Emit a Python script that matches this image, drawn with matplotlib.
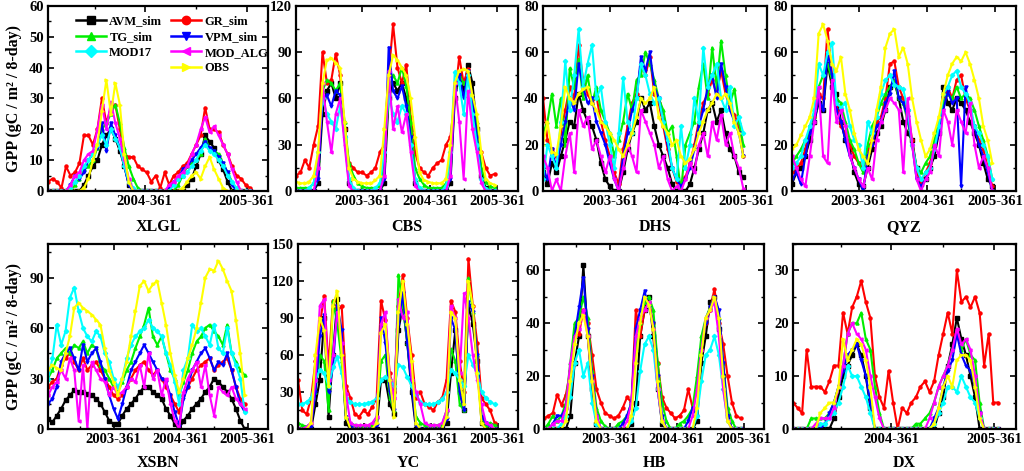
import matplotlib
matplotlib.use('Agg')
import numpy as np
import matplotlib.pyplot as plt
from matplotlib.lines import Line2D
from matplotlib.ticker import MultipleLocator, FixedLocator

plt.rcParams['font.family'] = ['Liberation Serif', 'DejaVu Serif']
plt.rcParams['font.weight'] = 'bold'
plt.rcParams['axes.linewidth'] = 1.6

# model names / styles
models = ['AVM_sim', 'GR_sim', 'TG_sim', 'VPM_sim', 'MOD17', 'MOD_ALG', 'OBS']
colors = ['#000000', '#ff0000', '#00ee00', '#0000ff', '#00ffff', '#ff00ff', '#ffff00']
markers = ['s', 'o', '^', 'v', 'D', '<', '>']

# ---- XLGL (2004-2005, every 2nd 8-day composite) ----
xlgl_avm = [0]*8 + [2, 5, 8, 10, 15, 18, 20, 17, 13, 8, 2] + [0]*12 + [2, 4, 8, 12, 18, 16, 14, 10, 7, 3] + [0]*5
xlgl_gr = [3, 4, 3, 1, 8, 5, 6, 9, 18, 18, 15, 20, 30, 22, 27, 28, 20, 12, 11, 11, 8, 7, 6, 3, 5,
           1, 6, 2, 5, 6, 8, 9, 12, 15, 18, 27, 20, 20, 19, 15, 12, 8, 5, 4, 2, 1]
xlgl_tg = [0]*6 + [2, 4, 7, 8, 10, 14, 20, 22, 25, 28, 22, 14, 8, 4, 1] + [0]*8 + [2, 5, 8, 9, 10, 12, 17, 14, 13, 12, 9, 6, 3] + [0]*4
xlgl_vpm = [0]*5 + [2, 5, 4, 6, 10, 12, 14, 22, 13, 22, 18, 14, 8, 2] + [0]*8 + [1, 3, 4, 7, 8, 10, 12, 14, 16, 14, 13, 11, 9, 6, 2] + [0]*4
xlgl_mod17 = [0]*5 + [1, 3, 5, 8, 10, 12, 15, 18, 15, 20, 17, 14, 8, 3, 1] + [0]*8 + [2, 4, 5, 6, 8, 10, 13, 15, 13, 12, 10, 8, 5, 3, 1] + [0]*3
xlgl_alg = [0]*5 + [2, 5, 6, 10, 12, 13, 20, 28, 20, 29, 22, 17, 10, 4] + [0]*8 + [2, 3, 5, 6, 8, 12, 15, 20, 24, 19, 21, 18, 15, 12, 7, 3] + [0]*3
xlgl_obs = [0]*8 + [1, 4, 10, 15, 26, 36, 25, 35, 28, 12, 3] + [0]*11 + [1, 3, 5, 6, 4, 8, 11, 7, 4, 1] + [0]*6

# ---- CBS (2003-2005, every 3rd composite) ----
cbs_avm = [0, 0, 0, 0, 0, 5, 50, 65, 70, 60, 70, 40, 5, 0, 0, 0, 0, 0, 0, 0, 5, 60, 70, 65, 70, 60, 40, 5,
           0, 0, 0, 0, 0, 0, 0, 5, 60, 75, 65, 82, 70, 40, 10, 2, 0, 0]
cbs_gr = [10, 12, 20, 15, 30, 42, 90, 70, 72, 89, 75, 40, 18, 15, 12, 12, 10, 12, 15, 25, 30, 75, 108, 80,
          70, 82, 48, 25, 15, 12, 10, 15, 18, 20, 30, 35, 60, 87, 70, 79, 60, 28, 25, 15, 10, 11]
cbs_tg = [2, 2, 2, 2, 5, 20, 65, 72, 70, 65, 70, 45, 18, 10, 5, 3, 2, 2, 2, 3, 20, 65, 75, 70, 80, 68, 45,
          15, 8, 4, 2, 2, 2, 2, 5, 20, 68, 75, 70, 72, 60, 45, 15, 6, 3, 2]
cbs_vpm = [0, 0, 0, 0, 0, 8, 60, 62, 55, 65, 62, 35, 5, 0, 0, 0, 0, 0, 0, 0, 8, 93, 65, 60, 68, 55, 35, 5,
           0, 0, 0, 0, 0, 0, 0, 8, 65, 75, 60, 78, 60, 35, 8, 0, 0, 0]
cbs_mod17 = [0, 0, 0, 2, 5, 25, 60, 50, 45, 40, 55, 35, 8, 2, 0, 0, 0, 0, 2, 5, 25, 62, 50, 45, 55, 50, 30,
             8, 2, 0, 0, 0, 0, 0, 3, 25, 77, 70, 50, 75, 50, 30, 8, 1, 0, 0]
cbs_alg = [0, 0, 0, 0, 0, 15, 70, 45, 25, 50, 60, 30, 3, 0, 0, 0, 0, 0, 0, 0, 10, 78, 40, 55, 38, 50, 25, 3,
           0, 0, 0, 0, 0, 0, 0, 10, 70, 45, 8, 65, 40, 25, 5, 0, 0, 0]
cbs_obs = [6, 5, 5, 6, 10, 25, 70, 85, 86, 83, 80, 45, 15, 8, 6, 5, 5, 5, 7, 10, 40, 75, 88, 85, 80, 75, 60,
           35, 12, 7, 6, 5, 5, 5, 8, 30, 70, 78, 79, 78, 62, 50, 25, 8, 5, 4]

# ---- DHS ----
dhs_avm = [8, 3, 12, 8, 15, 22, 30, 28, 42, 35, 30, 28, 22, 12, 5, 2, 0, 0, 8, 18, 25, 30, 40, 35, 38, 28,
           20, 15, 10, 3, 0, 0, 0, 3, 10, 18, 25, 35, 38, 30, 35, 25, 18, 15, 8, 6]
dhs_gr = [40, 22, 18, 15, 25, 35, 45, 40, 63, 48, 42, 38, 41, 30, 22, 15, 8, 3, 18, 28, 38, 42, 55, 50, 58,
          42, 38, 28, 18, 10, 4, 3, 6, 12, 20, 30, 38, 42, 48, 42, 52, 42, 36, 33, 28, 15]
dhs_tg = [25, 30, 42, 28, 40, 20, 53, 45, 57, 40, 50, 38, 45, 35, 30, 25, 15, 22, 30, 42, 35, 48, 50, 60, 55,
          48, 40, 35, 25, 28, 15, 0, 20, 25, 30, 45, 55, 40, 62, 45, 65, 50, 38, 44, 30, 20]
dhs_vpm = [10, 5, 18, 10, 20, 30, 40, 35, 55, 45, 38, 40, 30, 25, 20, 12, 5, 0, 15, 25, 35, 40, 58, 52, 60,
           45, 40, 30, 20, 10, 5, 2, 5, 10, 18, 28, 35, 45, 50, 40, 55, 45, 35, 30, 25, 15]
dhs_mod17 = [5, 20, 15, 10, 30, 56, 35, 50, 70, 45, 55, 63, 40, 45, 30, 20, 10, 25, 49, 30, 25, 40, 55, 50,
             42, 38, 40, 30, 22, 10, 5, 28, 10, 20, 40, 30, 62, 45, 50, 55, 40, 35, 45, 28, 32, 25]
dhs_alg = [15, 10, 0, 5, 0, 15, 25, 8, 35, 28, 32, 18, 22, 15, 8, 15, 5, 0, 10, 20, 15, 8, 35, 30, 25, 20,
           10, 15, 5, 0, 2, 0, 5, 12, 8, 20, 25, 15, 30, 22, 33, 20, 25, 15, 10, 1]
dhs_obs = [20, 30, 17, 16, 28, 45, 40, 38, 42, 44, 45, 38, 35, 30, 28, 25, 22, 18, 15, 20, 25, 32, 40, 38,
           40, 45, 32, 28, 25, 20, 22, 15, 12, 14, 18, 25, 30, 35, 38, 42, 40, 42, 38, 30, 25, 15]

# ---- QYZ ----
qyz_avm = [3, 8, 10, 15, 22, 30, 38, 35, 55, 45, 42, 30, 22, 18, 8, 3, 2, 10, 18, 25, 28, 35, 45, 47, 40,
           30, 25, 22, 10, 3, 5, 10, 15, 25, 45, 38, 35, 40, 38, 35, 30, 25, 20, 12, 5, 2]
qyz_gr = [8, 10, 12, 18, 28, 32, 42, 40, 70, 50, 38, 28, 25, 20, 15, 12, 10, 18, 22, 30, 32, 40, 55, 56, 45,
          40, 35, 22, 8, 4, 8, 12, 20, 28, 38, 45, 40, 48, 50, 40, 35, 28, 22, 18, 10, 2]
qyz_tg = [12, 15, 18, 22, 25, 32, 45, 50, 55, 48, 40, 38, 30, 22, 18, 12, 8, 20, 28, 32, 38, 42, 45, 48, 40,
          38, 30, 20, 10, 8, 12, 15, 22, 30, 38, 42, 40, 45, 40, 42, 40, 35, 28, 22, 15, 5]
qyz_vpm = [5, 8, 3, 15, 25, 30, 40, 35, 60, 50, 35, 30, 22, 15, 10, 5, 0, 15, 20, 28, 30, 38, 42, 52, 40,
           38, 32, 20, 5, 2, 5, 10, 18, 25, 35, 43, 38, 40, 2, 45, 35, 28, 20, 15, 8, 0]
qyz_mod17 = [10, 12, 15, 22, 28, 35, 55, 50, 60, 64, 38, 36, 38, 28, 22, 20, 10, 30, 25, 32, 42, 48, 50, 46,
             45, 44, 35, 20, 10, 5, 8, 10, 18, 28, 42, 45, 50, 52, 45, 42, 38, 28, 25, 20, 15, 5]
qyz_alg = [15, 10, 5, 2, 15, 30, 45, 15, 12, 48, 30, 35, 28, 15, 10, 5, 2, 10, 5, 22, 30, 35, 40, 38, 35, 8,
           40, 20, 5, 0, 5, 8, 20, 15, 35, 30, 20, 35, 30, 25, 38, 20, 10, 15, 10, 0]
qyz_obs = [18, 20, 24, 28, 32, 40, 68, 72, 65, 55, 52, 58, 42, 35, 25, 18, 15, 12, 22, 35, 45, 62, 68, 70,
           58, 62, 55, 40, 30, 22, 15, 18, 25, 32, 42, 50, 55, 58, 56, 60, 55, 48, 40, 28, 22, 12]

# ---- XSBN ----
xsbn_avm = [6, 4, 8, 12, 17, 20, 23, 22, 22, 21, 20, 18, 15, 10, 5, 3, 3, 8, 12, 15, 18, 22, 25, 25, 22, 20,
            18, 12, 8, 3, 0, 5, 8, 12, 15, 18, 22, 25, 30, 28, 25, 22, 18, 12, 5, 0]
xsbn_gr = [25, 28, 30, 38, 42, 45, 40, 35, 42, 35, 38, 40, 35, 30, 25, 20, 18, 20, 25, 30, 35, 38, 40, 35,
           32, 35, 30, 25, 20, 15, 10, 20, 25, 30, 35, 38, 40, 42, 35, 38, 40, 42, 35, 25, 18, 15]
xsbn_tg = [30, 35, 42, 45, 48, 45, 50, 48, 52, 45, 50, 48, 38, 35, 30, 25, 22, 28, 35, 40, 48, 55, 62, 72,
           55, 50, 55, 45, 35, 30, 20, 28, 35, 45, 52, 55, 60, 62, 58, 55, 50, 62, 45, 40, 35, 32]
xsbn_vpm = [15, 18, 25, 40, 45, 48, 42, 35, 50, 40, 45, 48, 40, 30, 20, 12, 6, 15, 25, 35, 40, 45, 50, 45,
            40, 35, 30, 28, 20, 10, 2, 18, 25, 35, 40, 45, 48, 42, 35, 40, 38, 45, 35, 25, 15, 10]
xsbn_mod17 = [30, 42, 62, 50, 58, 78, 84, 70, 60, 55, 52, 58, 55, 45, 40, 30, 25, 30, 42, 50, 55, 58, 60, 65,
              60, 58, 55, 45, 38, 28, 15, 35, 42, 62, 58, 60, 55, 50, 62, 48, 45, 60, 45, 38, 30, 10]
xsbn_alg = [20, 25, 28, 35, 30, 42, 35, 5, 38, 0, 40, 35, 30, 28, 20, 25, 20, 22, 25, 30, 28, 38, 25, 45, 30,
            35, 20, 30, 15, 5, 0, 22, 30, 35, 40, 25, 38, 20, 8, 25, 22, 20, 25, 18, 15, 12]
xsbn_obs = [35, 38, 36, 35, 45, 55, 72, 75, 72, 70, 68, 65, 62, 48, 35, 28, 20, 30, 40, 55, 70, 85, 88, 82,
            86, 88, 75, 62, 45, 32, 22, 30, 42, 50, 60, 75, 90, 95, 94, 100, 95, 88, 82, 65, 45, 20]

# ---- YC ----
yc_avm = [0, 0, 0, 0, 20, 40, 90, 10, 60, 105, 60, 5, 0, 0, 0, 0, 0, 0, 0, 40, 40, 20, 12, 80, 100, 70, 30,
          0, 0, 0, 0, 0, 0, 0, 5, 45, 80, 30, 15, 100, 85, 55, 5, 0, 0, 0]
yc_gr = [40, 15, 12, 25, 55, 85, 108, 50, 104, 95, 100, 35, 25, 12, 10, 15, 12, 18, 25, 104, 88, 45, 30, 100,
         125, 90, 60, 25, 30, 20, 18, 15, 22, 25, 40, 104, 95, 55, 30, 138, 100, 70, 25, 20, 15, 5]
yc_tg = [5, 3, 2, 5, 30, 60, 55, 15, 104, 85, 55, 10, 5, 3, 2, 2, 2, 3, 10, 55, 60, 25, 15, 125, 100, 70, 40,
         10, 5, 3, 3, 3, 3, 4, 15, 65, 55, 20, 15, 122, 95, 60, 10, 3, 5, 3]
yc_vpm = [0, 0, 0, 2, 30, 75, 92, 30, 50, 100, 80, 10, 3, 0, 0, 0, 0, 0, 3, 90, 70, 30, 15, 85, 110, 70, 35,
          3, 0, 0, 0, 0, 0, 0, 8, 90, 80, 30, 15, 103, 95, 60, 10, 5, 2, 0]
yc_mod17 = [20, 20, 22, 25, 40, 48, 45, 35, 50, 58, 45, 25, 22, 20, 20, 20, 21, 22, 25, 40, 42, 40, 35, 52,
            50, 42, 35, 28, 22, 20, 20, 20, 22, 24, 30, 48, 45, 40, 35, 60, 52, 45, 30, 25, 22, 20]
yc_alg = [0, 0, 2, 5, 40, 100, 105, 40, 60, 95, 70, 28, 5, 3, 3, 3, 3, 5, 10, 85, 95, 40, 25, 105, 90, 95, 40,
          30, 20, 5, 3, 3, 3, 5, 15, 100, 90, 45, 110, 90, 60, 40, 20, 5, 3, 0]
yc_obs = [0, 0, 0, 5, 60, 90, 80, 35, 100, 112, 60, 10, 0, 0, 0, 0, 0, 0, 5, 78, 85, 40, 10, 95, 120, 85, 55,
          5, 0, 0, 0, 0, 0, 0, 10, 95, 90, 40, 20, 120, 100, 45, 5, 0, 0, 0]

# ---- HB ----
hb_avm = [0, 0, 0, 0, 0, 0, 5, 25, 35, 62, 35, 15, 2, 0, 0, 0, 0, 0, 0, 0, 2, 10, 35, 45, 50, 35, 15, 2, 0,
          0, 0, 0, 0, 0, 0, 3, 25, 35, 48, 50, 38, 20, 5, 0, 0, 0]
hb_gr = [4, 5, 6, 13, 9, 13, 22, 38, 36, 45, 40, 28, 15, 10, 6, 5, 4, 5, 8, 12, 10, 45, 35, 45, 48, 40, 25,
         12, 8, 6, 4, 5, 7, 15, 8, 15, 30, 40, 45, 53, 40, 32, 20, 10, 5, 4]
hb_tg = [0, 2, 5, 3, 5, 10, 25, 40, 42, 50, 42, 22, 8, 3, 1, 0, 0, 2, 3, 5, 10, 30, 40, 48, 50, 45, 25, 10,
         3, 0, 0, 2, 3, 5, 8, 20, 35, 42, 46, 50, 42, 25, 8, 3, 0, 0]
hb_vpm = [0, 0, 2, 5, 5, 8, 20, 35, 46, 57, 38, 20, 5, 0, 0, 0, 0, 0, 2, 5, 10, 38, 45, 52, 46, 40, 20, 5,
          0, 0, 0, 0, 0, 3, 8, 5, 30, 40, 46, 50, 45, 25, 5, 0, 0, 0]
hb_mod17 = [0, 0, 0, 0, 2, 5, 12, 25, 30, 20, 25, 10, 2, 0, 0, 0, 0, 0, 0, 0, 3, 8, 22, 32, 35, 30, 15, 3,
            0, 0, 0, 0, 0, 0, 0, 5, 18, 28, 30, 35, 28, 15, 3, 0, 0, 0]
hb_alg = [0, 0, 2, 3, 3, 8, 25, 35, 38, 45, 35, 18, 5, 0, 0, 0, 0, 0, 0, 3, 10, 35, 42, 45, 48, 38, 15, 3,
          0, 0, 0, 0, 0, 0, 5, 15, 30, 42, 45, 48, 35, 15, 3, 0, 0, 0]
hb_obs = [0, 0, 0, 0, 0, 3, 18, 32, 40, 43, 35, 18, 3, 0, 0, 0, 0, 0, 0, 0, 5, 25, 40, 50, 47, 38, 18, 3,
          0, 0, 0, 0, 0, 0, 0, 8, 28, 42, 45, 50, 42, 20, 3, 0, 0, 0]

# ---- DX (2004-2005) ----
dx_avm = [0]*9 + [2, 6, 10, 12, 14, 16, 14, 10, 4] + [0]*14 + [3, 6, 12, 16, 21, 17, 14, 10, 6] + [0]*5
dx_gr = [5, 4, 3, 15, 8, 8, 8, 7, 9, 12, 12, 22, 18, 23, 25, 28, 24, 21, 10, 6, 4, 11, 5, 0, 4, 3, 5, 6,
         8, 9, 7, 9, 14, 18, 22, 18, 30, 24, 25, 23, 25, 22, 12, 18, 5, 5]
dx_tg = [0]*4 + [2, 2, 2, 2, 3, 5, 8, 12, 18, 20, 20, 22, 17, 15, 8, 3] + [0]*7 + [1, 1, 2, 3, 5, 8, 10, 12, 15, 18, 15, 17, 14, 13, 5] + [0]*4
dx_vpm = [0]*7 + [1, 3, 5, 8, 11, 14, 15, 16, 13, 10, 5] + [0]*13 + [2, 4, 8, 11, 13, 18, 14, 12, 11, 8, 3] + [0]*4
dx_mod17 = [0]*6 + [1, 1, 2, 3, 5, 8, 12, 10, 10, 8, 6, 3] + [0]*13 + [1, 3, 5, 8, 8, 7, 10, 8, 6, 5, 2] + [0]*4
dx_alg = [0]*5 + [1, 2, 2, 2, 4, 8, 12, 18, 20, 18, 17, 15, 10, 6, 2] + [0]*10 + [2, 5, 8, 10, 12, 15, 19, 16, 17, 15, 10, 3] + [0]*4
dx_obs = [0]*6 + [3, 4, 5, 5, 8, 17, 13, 15, 17, 16, 13, 8] + [0]*13 + [1, 4, 8, 10, 8, 13, 14, 14, 13, 8, 2] + [0]*4

# site, series, number of years, ymax, ystep, axes box [left, bottom, width, height]
sites = [
    ('XLGL', [xlgl_avm, xlgl_gr, xlgl_tg, xlgl_vpm, xlgl_mod17, xlgl_alg, xlgl_obs], 2, 60, 10,
     [0.0469, 0.5945, 0.2148, 0.393]),
    ('CBS', [cbs_avm, cbs_gr, cbs_tg, cbs_vpm, cbs_mod17, cbs_alg, cbs_obs], 3, 120, 30,
     [0.2891, 0.5945, 0.2168, 0.393]),
    ('DHS', [dhs_avm, dhs_gr, dhs_tg, dhs_vpm, dhs_mod17, dhs_alg, dhs_obs], 3, 80, 20,
     [0.5303, 0.5945, 0.2188, 0.393]),
    ('QYZ', [qyz_avm, qyz_gr, qyz_tg, qyz_vpm, qyz_mod17, qyz_alg, qyz_obs], 3, 80, 20,
     [0.7734, 0.5945, 0.2188, 0.393]),
    ('XSBN', [xsbn_avm, xsbn_gr, xsbn_tg, xsbn_vpm, xsbn_mod17, xsbn_alg, xsbn_obs], 3, 110, 30,
     [0.0469, 0.0892, 0.2148, 0.393]),
    ('YC', [yc_avm, yc_gr, yc_tg, yc_vpm, yc_mod17, yc_alg, yc_obs], 3, 150, 30,
     [0.2910, 0.0892, 0.2148, 0.393]),
    ('HB', [hb_avm, hb_gr, hb_tg, hb_vpm, hb_mod17, hb_alg, hb_obs], 3, 70, 20,
     [0.5313, 0.0892, 0.2148, 0.393]),
    ('DX', [dx_avm, dx_gr, dx_tg, dx_vpm, dx_mod17, dx_alg, dx_obs], 2, 35, 10,
     [0.7744, 0.0892, 0.2178, 0.393]),
]

fig = plt.figure(figsize=(10.24, 4.71), dpi=100)

for i, (name, series, nyears, ymax, ystep, box) in enumerate(sites):
    ax = fig.add_axes(box)
    step = 2 if nyears == 2 else 3
    for j, vals in enumerate(series):
        x = np.arange(len(vals)) * step
        ax.plot(x, vals, color=colors[j], marker=markers[j], markersize=2.2,
                linewidth=1.5, label=models[j])
    if nyears == 2:
        ax.set_xlim(0, 98)
        ax.set_xticks([43, 88.5])
        ax.set_xticklabels(['2004-361', '2005-361'])
        ax.xaxis.set_minor_locator(FixedLocator([21, 66]))
    else:
        ax.set_xlim(0, 151)
        ax.set_xticks([45, 91, 137])
        ax.set_xticklabels(['2003-361', '2004-361', '2005-361'])
        ax.xaxis.set_minor_locator(FixedLocator([22, 68, 114]))
    ax.set_ylim(0, ymax)
    ax.yaxis.set_major_locator(MultipleLocator(ystep))
    ax.yaxis.set_minor_locator(MultipleLocator(ystep / 2))
    ax.tick_params(which='both', direction='in', top=True, right=True, labelsize=10.5, pad=3)
    ax.tick_params(which='major', length=4, width=1.2)
    ax.tick_params(which='minor', length=2.5, width=1.0)
    for lab in ax.get_xticklabels() + ax.get_yticklabels():
        lab.set_fontweight('bold')
    ty = -0.193 if i < 4 else -0.185
    ax.text(0.5, ty, name, transform=ax.transAxes, ha='center', va='center',
            fontsize=11.5, fontweight='bold')

    if i == 0:
        hs = [Line2D([], [], color=colors[j], marker=markers[j], markersize=6, linewidth=1.8)
              for j in range(7)]
        blank = Line2D([], [], color='none')
        order = [0, 2, 4]
        handles = [hs[k] for k in order] + [blank] + [hs[k] for k in [1, 3, 5, 6]]
        labels = [models[k] for k in order] + [''] + [models[k] for k in [1, 3, 5, 6]]
        ax.legend(handles, labels, loc='upper left', bbox_to_anchor=(0.125, 0.95), ncol=2,
                  frameon=False, handlelength=2.4, handletextpad=0.3,
                  columnspacing=0.7, labelspacing=0.3, borderaxespad=0.0, borderpad=0.0,
                  prop={'weight': 'bold', 'size': 9})

for yc in [0.791, 0.286]:
    fig.text(0.014, yc, 'GPP (gC / m² / 8-day)', rotation=90, ha='center', va='center',
             fontsize=11.5, fontweight='bold')

fig.savefig('out.png', dpi=100)
